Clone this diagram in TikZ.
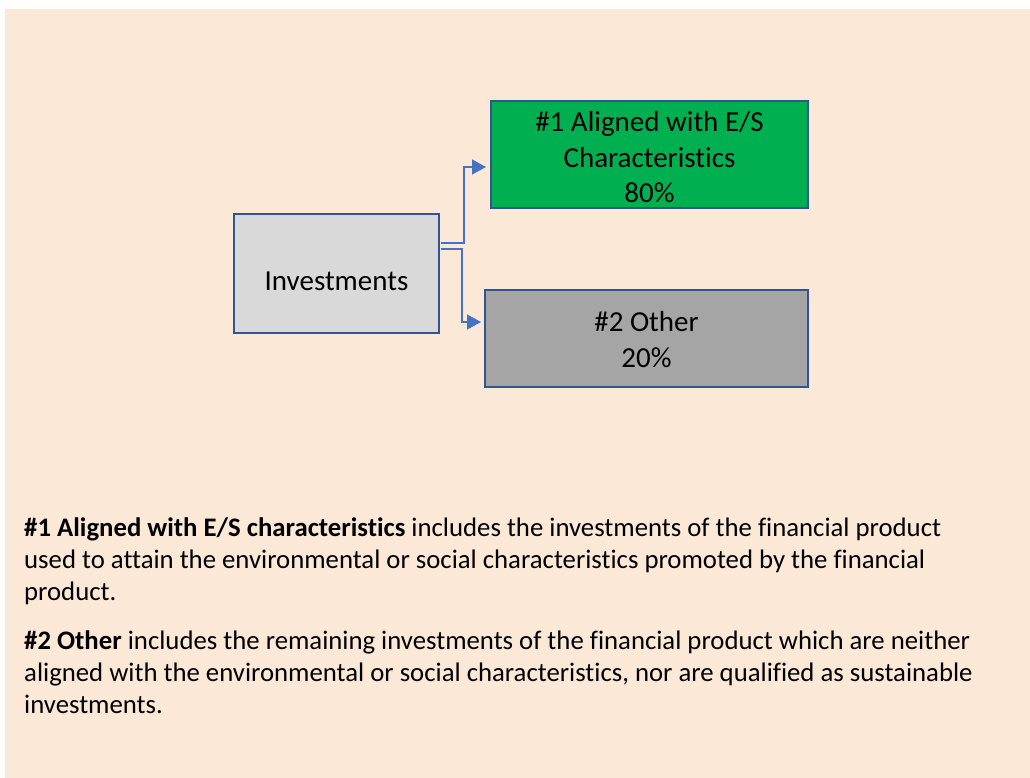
\documentclass[tikz,border=0pt]{standalone}
\usepackage{fontspec}
\setmainfont{Carlito}[Ligatures={NoCommon}]
\usetikzlibrary{arrows.meta}
\definecolor{bgbeige}{HTML}{FBE8D7}
\definecolor{boxborder}{HTML}{2F5597}
\definecolor{greenfill}{HTML}{00B050}
\definecolor{greyfill}{HTML}{A5A5A5}
\definecolor{lightgrey}{HTML}{D9D9D9}
\definecolor{connblue}{HTML}{4472C4}
\tikzset{
  boxnode/.style={draw=boxborder, line width=2pt, rectangle, inner sep=0pt, align=center,
    font=\fontsize{29}{35.5}\selectfont, text=black},
  conn/.style={draw=connblue, line width=1.3pt, -{Triangle[length=14pt,width=15pt]}},
  bodytext/.style={anchor=base west, inner sep=0pt, align=left,
    font=\fontsize{26.75}{32}\selectfont, text=black}
}
\begin{document}
\begin{tikzpicture}[x=1pt,y=-1pt]
\useasboundingbox (0,0) rectangle (1030,778);
\fill[white] (0,0) rectangle (1030,778);
\fill[bgbeige] (5,9) rectangle (1030,778);

\node[boxnode, fill=lightgrey, minimum width=205pt, minimum height=119pt] (inv) at (336.5,273.5)
  {\raisebox{-8pt}[\height][\depth]{Investments}};
\node[boxnode, fill=greenfill, minimum width=317pt, minimum height=107pt] (green) at (649.5,154.5)
  {\raisebox{-5.5pt}[\height][\depth]{\begin{tabular}{@{}c@{}}\#1 Aligned with E/S\\Characteristics\\80\%\end{tabular}}};
\node[boxnode, fill=greyfill, minimum width=323pt, minimum height=97pt] (grey) at (646.5,338.5)
  {\raisebox{-4pt}[\height][\depth]{\begin{tabular}{@{}c@{}}\#2 Other\\20\%\end{tabular}}};

\coordinate (s1) at ([xshift=1pt,yshift=30.5pt]inv.east);
\coordinate (t1) at ([xshift=-4pt,yshift=-12.5pt]green.west);
\coordinate (s2) at ([xshift=1pt,yshift=24.5pt]inv.east);
\coordinate (t2) at ([xshift=-3pt,yshift=16.5pt]grey.west);

\draw[conn] (s1) -- ++(23,0) |- (t1);
\draw[conn] (s2) -- ++(21,0) |- (t2);

\node[bodytext] (p1) at (24,600) {\textbf{\#1 Aligned with E/S characteristics} includes the investments of the financial product\\
used to attain the environmental or social characteristics promoted by the financial\\
product.};
\node[bodytext] (p2) at (24,713) {\textbf{\#2 Other} includes the remaining investments of the financial product which are neither\\
aligned with the environmental or social characteristics, nor are qualified as sustainable\\
investments.};
\end{tikzpicture}
\end{document}
